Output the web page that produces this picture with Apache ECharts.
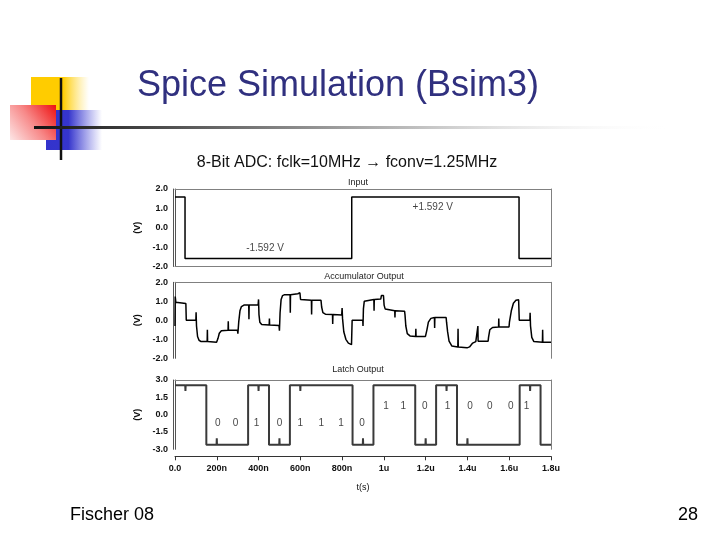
<!DOCTYPE html>
<html><head><meta charset="utf-8">
<script src="https://cdn.jsdelivr.net/npm/echarts@6/dist/echarts.min.js"></script>
<style>html,body{margin:0;padding:0;background:#fff}#c{width:720px;height:540px}</style>
</head><body><div id="c"></div>
<script>
// ---- data (time in ns, values in V) ----
const xTickLabels = ['0.0','200n','400n','600n','800n','1u','1.2u','1.4u','1.6u','1.8u'];
const inputSignal = [[0,1.592],[48,1.592],[48,-1.592],[846,-1.592],[846,1.592],[1647,1.592],[1647,-1.592],[1800,-1.592]];
const inputLabels = [[431,-1.04,'-1.592 V'],[1234,1.07,'+1.592 V']];
const accumulator = [[0,-0.3],[1,1.25],[4,0.95],[10,0.88],[52,0.88],[54,0.0],[100,0.0],[101,0.42],[103,-0.3],[108,-0.85],[115,-1.05],[125,-1.12],[154,-1.12],[155,-0.5],[156,-1.12],[199,-1.15],[201,-1.22],[206,-0.95],[212,-0.68],[222,-0.55],[254,-0.52],[255,-0.05],[256,-0.52],[299,-0.52],[301,-0.7],[305,-0.1],[311,0.5],[318,0.72],[330,0.8],[353,0.8],[354,0.05],[355,0.8],[398,0.82],[400,1.1],[402,0.3],[406,-0.1],[415,-0.22],[451,-0.25],[452,0.1],[453,-0.25],[498,-0.28],[500,-0.55],[503,0.4],[508,1.1],[515,1.3],[525,1.35],[551,1.35],[552,0.4],[553,1.35],[588,1.4],[590,1.5],[598,1.45],[601,1.1],[610,1.05],[653,1.05],[654,0.3],[655,1.05],[699,1.05],[702,0.7],[708,0.4],[720,0.32],[754,0.3],[755,-0.2],[756,0.3],[798,0.28],[800,0.65],[802,0.1],[808,-0.6],[818,-1.0],[830,-1.2],[845,-1.28],[848,0.0],[899,0.0],[900,-0.3],[902,0.6],[906,1.0],[912,1.1],[952,1.1],[953,0.5],[954,1.1],[985,1.12],[988,1.3],[998,1.3],[1001,0.8],[1006,0.6],[1015,0.52],[1052,0.5],[1053,0.15],[1054,0.5],[1099,0.48],[1101,0.3],[1105,-0.3],[1112,-0.7],[1125,-0.82],[1152,-0.85],[1153,-0.45],[1154,-0.85],[1199,-0.85],[1201,-0.9],[1206,-0.5],[1213,-0.1],[1225,0.1],[1242,0.15],[1243,-0.4],[1244,0.15],[1298,0.15],[1300,-0.1],[1305,-0.6],[1312,-1.1],[1325,-1.35],[1354,-1.4],[1355,-0.45],[1356,-1.4],[1398,-1.45],[1401,-1.5],[1410,-1.4],[1425,-1.2],[1440,-1.12],[1449,-1.1],[1450,-0.3],[1451,-1.1],[1499,-1.1],[1501,-0.9],[1507,-0.5],[1520,-0.38],[1549,-0.35],[1550,0.1],[1551,-0.35],[1599,-0.35],[1601,-0.1],[1610,0.5],[1620,0.9],[1632,1.05],[1645,1.08],[1648,0.0],[1699,0.0],[1700,0.4],[1702,-0.3],[1708,-0.9],[1718,-1.12],[1759,-1.15],[1760,-0.5],[1761,-1.15],[1800,-1.15]];
const latch = [[0,2.55],[49,2.55],[50,2.05],[51,2.55],[150,2.55],[150,-2.6],[199,-2.6],[200,-2.05],[201,-2.6],[350,-2.6],[350,2.55],[399,2.55],[400,2.05],[401,2.55],[450,2.55],[450,-2.6],[499,-2.6],[500,-2.05],[501,-2.6],[550,-2.6],[550,2.55],[599,2.55],[600,2.05],[601,2.55],[850,2.55],[850,-2.6],[899,-2.6],[900,-2.05],[901,-2.6],[950,-2.6],[950,2.55],[1150,2.55],[1150,-2.6],[1199,-2.6],[1200,-2.05],[1201,-2.6],[1250,-2.6],[1250,2.55],[1299,2.55],[1300,2.05],[1301,2.55],[1350,2.55],[1350,-2.6],[1399,-2.6],[1400,-2.05],[1401,-2.6],[1650,-2.6],[1650,2.55],[1699,2.55],[1700,2.05],[1701,2.55],[1750,2.55],[1750,-2.6],[1800,-2.6]];
const bitTimes = [205,290,390,500,600,700,795,895,1010,1093,1196,1305,1412,1507,1608,1683];
const bitValues = ['0','0','1','0','1','1','1','0','1','1','0','1','0','0','0','1'];
const bitLevels = [-0.72,-0.72,-0.72,-0.72,-0.72,-0.72,-0.72,-0.72,0.69,0.69,0.69,0.69,0.69,0.69,0.69,0.69];
const panelTitles = ['Input','Accumulator Output','Latch Output'];

const FONT = 'Liberation Sans';
const frameColor = '#808080';
const grids = [
  {left:175, top:189, width:376, height:77.5},
  {left:175, top:282.3, width:376, height:76},
  {left:175, top:380, width:376, height:69.3}
];
const yRanges = [{min:-2,max:2,interval:1},{min:-2,max:2,interval:1},{min:-3,max:3,interval:1.5}];

const xAxes = [], yAxes = [];
grids.forEach((g,i)=>{
  const isLast = i===2;
  xAxes.push({type:'value',gridIndex:i,min:0,max:1800,interval:200,position:'bottom',
    offset:isLast?7:0,
    axisLine:{show:i!==1,onZero:false,lineStyle:{color:isLast?'#333':frameColor,width:1}},
    axisTick:{show:isLast,length:4,lineStyle:{color:'#333'}},
    axisLabel:{show:isLast,margin:8,color:'#111',fontFamily:FONT,fontWeight:'bold',fontSize:9,
      formatter:(v)=>xTickLabels[Math.round(v/200)]},
    splitLine:{show:false},
    name:isLast?'t(s)':'',nameLocation:'middle',nameGap:27,
    nameTextStyle:{fontFamily:FONT,fontSize:9,color:'#111'}});
  xAxes.push({type:'value',gridIndex:i,min:0,max:1800,position:'top',
    axisLine:{show:true,onZero:false,lineStyle:{color:frameColor,width:1}},
    axisTick:{show:false},axisLabel:{show:false},splitLine:{show:false}});
  const r = yRanges[i];
  yAxes.push({type:'value',gridIndex:i,min:r.min,max:r.max,interval:r.interval,position:'left',
    axisLine:{show:true,onZero:false,lineStyle:{color:'#555',width:1}},
    axisTick:{show:false},
    axisLabel:{margin:7,color:'#111',fontFamily:FONT,fontWeight:'bold',fontSize:9,
      formatter:(v)=>v.toFixed(1)},
    splitLine:{show:false},
    name:'(V)',nameLocation:'middle',nameGap:30,nameRotate:90,
    nameTextStyle:{fontFamily:FONT,fontSize:9,fontWeight:'bold',color:'#111'}});
  yAxes.push({type:'value',gridIndex:i,min:r.min,max:r.max,position:'left',offset:2,
    axisLine:{show:true,onZero:false,lineStyle:{color:'#555',width:1}},
    axisTick:{show:false},axisLabel:{show:false},splitLine:{show:false}});
  yAxes.push({type:'value',gridIndex:i,min:r.min,max:r.max,position:'right',
    axisLine:{show:true,onZero:false,lineStyle:{color:frameColor,width:1}},
    axisTick:{show:false},axisLabel:{show:false},splitLine:{show:false}});
});

function labelSeries(xi, yi, data, size){
  return {type:'scatter',xAxisIndex:xi,yAxisIndex:yi,data:data,symbolSize:1,
    itemStyle:{color:'rgba(0,0,0,0)'},silent:true,
    label:{show:true,position:'inside',formatter:(p)=>p.value[2],
      color:'#111',fontFamily:FONT,fontSize:size}};
}

const bitData = bitTimes.map((t,i)=>[t,bitLevels[i],bitValues[i]]);

const option = {
  backgroundColor:'#fff',
  animation:false,
  title: [
    {text:'Spice Simulation (Bsim3)',left:333,top:63,textAlign:'center',
      textStyle:{fontFamily:FONT,fontSize:36,fontWeight:'normal',color:'#30307f'}},
    {text:'8-Bit ADC: fclk=10MHz \u2192 fconv=1.25MHz',left:342,top:150,textAlign:'center',
      textStyle:{fontFamily:FONT,fontSize:16,fontWeight:'normal',color:'#111'}},
    {text:panelTitles[0],left:353,top:173,textAlign:'center',textStyle:{fontFamily:FONT,fontSize:9,fontWeight:'normal',color:'#222'}},
    {text:panelTitles[1],left:359,top:267,textAlign:'center',textStyle:{fontFamily:FONT,fontSize:9,fontWeight:'normal',color:'#222'}},
    {text:panelTitles[2],left:353,top:360,textAlign:'center',textStyle:{fontFamily:FONT,fontSize:9,fontWeight:'normal',color:'#222'}},
    {text:'Fischer 08',left:65,top:501,textStyle:{fontFamily:FONT,fontSize:18,fontWeight:'normal',color:'#000'}},
    {text:'28',left:673,top:501,textStyle:{fontFamily:FONT,fontSize:18,fontWeight:'normal',color:'#000'}}
  ],
  grid: grids,
  xAxis: xAxes,
  yAxis: yAxes,
  graphic: [
    {type:'rect',shape:{x:31,y:77,width:58,height:33},z:1,
      style:{fill:new echarts.graphic.LinearGradient(0,0,1,0,[{offset:0,color:'#ffcc00'},{offset:0.55,color:'#ffcc00'},{offset:1,color:'rgba(255,220,80,0)'}])}},
    {type:'rect',shape:{x:46,y:110,width:56,height:40},z:2,
      style:{fill:new echarts.graphic.LinearGradient(0,0,1,0,[{offset:0,color:'#3333cc'},{offset:0.4,color:'#3535cc'},{offset:1,color:'rgba(80,80,220,0)'}])}},
    {type:'rect',shape:{x:10,y:105,width:46,height:35},z:3,
      style:{fill:new echarts.graphic.LinearGradient(1,0,0,1,[{offset:0,color:'#ee1010'},{offset:0.5,color:'#f78888'},{offset:1,color:'#fde6e6'}])}},
    {type:'line',shape:{x1:61,y1:78,x2:61,y2:160},z:4,style:{stroke:'#111',lineWidth:2.5}},
    {type:'line',shape:{x1:34,y1:127.5,x2:672,y2:127.5},z:4,
      style:{lineWidth:3,stroke:new echarts.graphic.LinearGradient(0,0,1,0,[{offset:0,color:'#111'},{offset:0.3,color:'#6a6a6a'},{offset:0.6,color:'#c0c0c0'},{offset:1,color:'rgba(255,255,255,0)'}])}}
  ],
  series: [
    {type:'line',xAxisIndex:0,yAxisIndex:0,data:inputSignal,showSymbol:false,lineStyle:{color:'#000',width:1.5},silent:true},
    labelSeries(0,0,inputLabels,10),
    {type:'line',xAxisIndex:2,yAxisIndex:3,data:accumulator,showSymbol:false,lineStyle:{color:'#000',width:1.5},silent:true},
    {type:'line',xAxisIndex:4,yAxisIndex:6,data:latch,showSymbol:false,lineStyle:{color:'#3a3a3a',width:2},silent:true},
    labelSeries(4,6,bitData,10)
  ]
};
echarts.init(document.getElementById('c'),null,{renderer:'canvas'}).setOption(option);
</script></body></html>
